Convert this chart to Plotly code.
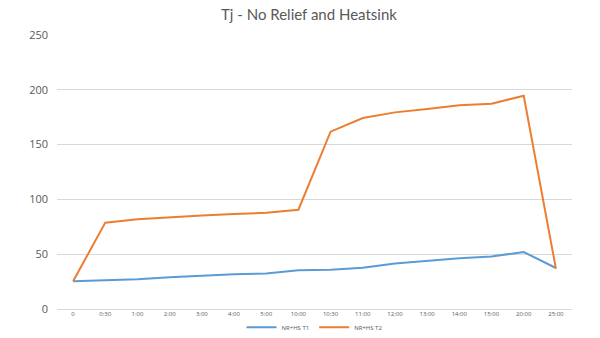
import plotly.graph_objects as go

# Time points and junction temperatures for the two test runs
times = ["0", "0:30", "1:00", "2:00", "3:00", "4:00", "5:00", "10:00",
         "10:30", "11:00", "12:00", "13:00", "14:00", "15:00", "20:00", "25:00"]
t1 = [25.3, 26.2, 27.1, 28.9, 30.4, 31.6, 32.5, 35.3,
      35.9, 37.7, 41.6, 44.0, 46.2, 48.0, 52.0, 37.4]
t2 = [25.3, 78.8, 81.8, 83.9, 85.4, 86.6, 87.8, 90.6,
      161.8, 174.3, 179.4, 182.5, 185.8, 187.3, 194.6, 36.8]
series_names = ["NR+HS T1", "NR+HS T2"]
y_ticks = [0, 50, 100, 150, 200, 250]

fig = go.Figure()
fig.add_trace(go.Scatter(x=times, y=t1, mode="lines", name=series_names[0],
                         line=dict(color="#5B9BD5", width=2)))
fig.add_trace(go.Scatter(x=times, y=t2, mode="lines", name=series_names[1],
                         line=dict(color="#ED7D31", width=2)))

fig.update_layout(
    width=600, height=338,
    margin=dict(l=57, r=28, t=35, b=29, autoexpand=False),
    paper_bgcolor="white", plot_bgcolor="white",
    font=dict(family="Open Sans, Liberation Sans, sans-serif", color="#595959"),
    title=dict(text="Tj - No Relief and Heatsink", x=0.515, xanchor="center",
               y=0.955, yanchor="middle",
               font=dict(family="Lato, Open Sans, sans-serif", size=15, color="#595959")),
    showlegend=True,
    legend=dict(orientation="h", x=0.5, xanchor="center", y=-0.067, yanchor="middle",
                font=dict(size=6, color="#595959"), itemwidth=30,
                bgcolor="rgba(0,0,0,0)"),
    xaxis=dict(type="category", showgrid=False, zeroline=False, showline=False,
               ticks="", tickfont=dict(size=6, color="#595959"),
               range=[-0.5, len(times) - 0.5], fixedrange=True),
    yaxis=dict(range=[0, 250], tickvals=y_ticks, showgrid=True,
               gridcolor="#D9D9D9", gridwidth=1, zeroline=True,
               zerolinecolor="#D9D9D9", zerolinewidth=1, showline=False,
               ticks="", ticklabelstandoff=8,
               tickfont=dict(size=11, color="#595959")),
)

fig.write_html("out.html")
